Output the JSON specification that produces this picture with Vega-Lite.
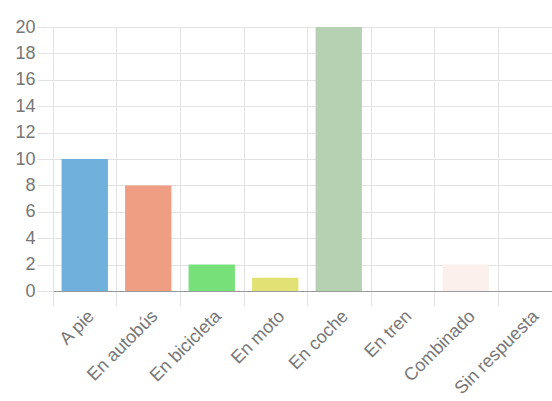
{
  "$schema": "https://vega.github.io/schema/vega-lite/v6.json",
  "width": 499,
  "height": 264,
  "autosize": {"type": "none"},
  "padding": {"left": 53, "top": 27, "right": 0, "bottom": 110},
  "background": "white",
  "data": {
    "values": [
      {"modo": "A pie", "n": 10},
      {"modo": "En autobús", "n": 8},
      {"modo": "En bicicleta", "n": 2},
      {"modo": "En moto", "n": 1},
      {"modo": "En coche", "n": 20},
      {"modo": "En tren", "n": 0},
      {"modo": "Combinado", "n": 2},
      {"modo": "Sin respuesta", "n": 0}
    ]
  },
  "config": {
    "view": {"stroke": null},
    "font": "Liberation Sans",
    "axis": {"labelFont": "Liberation Sans", "labelColor": "#777", "labelFontSize": 18}
  },
  "mark": {"type": "bar"},
  "encoding": {
    "x": {
      "field": "modo",
      "type": "nominal",
      "sort": null,
      "scale": {"range": [0, 508], "paddingInner": 0.27, "paddingOuter": 0.135},
      "axis": {
        "title": null,
        "tickOffset": -31.75,
        "labelOffset": 31.75,
        "grid": true,
        "gridColor": "#e2e2e2",
        "ticks": true,
        "tickSize": 14,
        "tickColor": "#e2e2e2",
        "domain": true,
        "domainColor": "#9a9a9a",
        "labelAngle": -45,
        "labelPadding": 2
      }
    },
    "y": {
      "field": "n",
      "type": "quantitative",
      "scale": {"domain": [0, 20], "nice": false},
      "axis": {
        "title": null,
        "values": [0, 2, 4, 6, 8, 10, 12, 14, 16, 18, 20],
        "grid": true,
        "gridColor": "#e2e2e2",
        "tickSize": 16,
        "tickColor": "#e2e2e2",
        "domain": false,
        "labelPadding": 2
      }
    },
    "color": {
      "field": "modo",
      "type": "nominal",
      "legend": null,
      "scale": {
        "domain": ["A pie", "En autobús", "En bicicleta", "En moto", "En coche", "En tren", "Combinado", "Sin respuesta"],
        "range": ["#70b0dc", "#f09e83", "#78e078", "#e2e274", "#b6d1b2", "#c8c8c8", "#fbf0eb", "#c8c8c8"]
      }
    }
  }
}
